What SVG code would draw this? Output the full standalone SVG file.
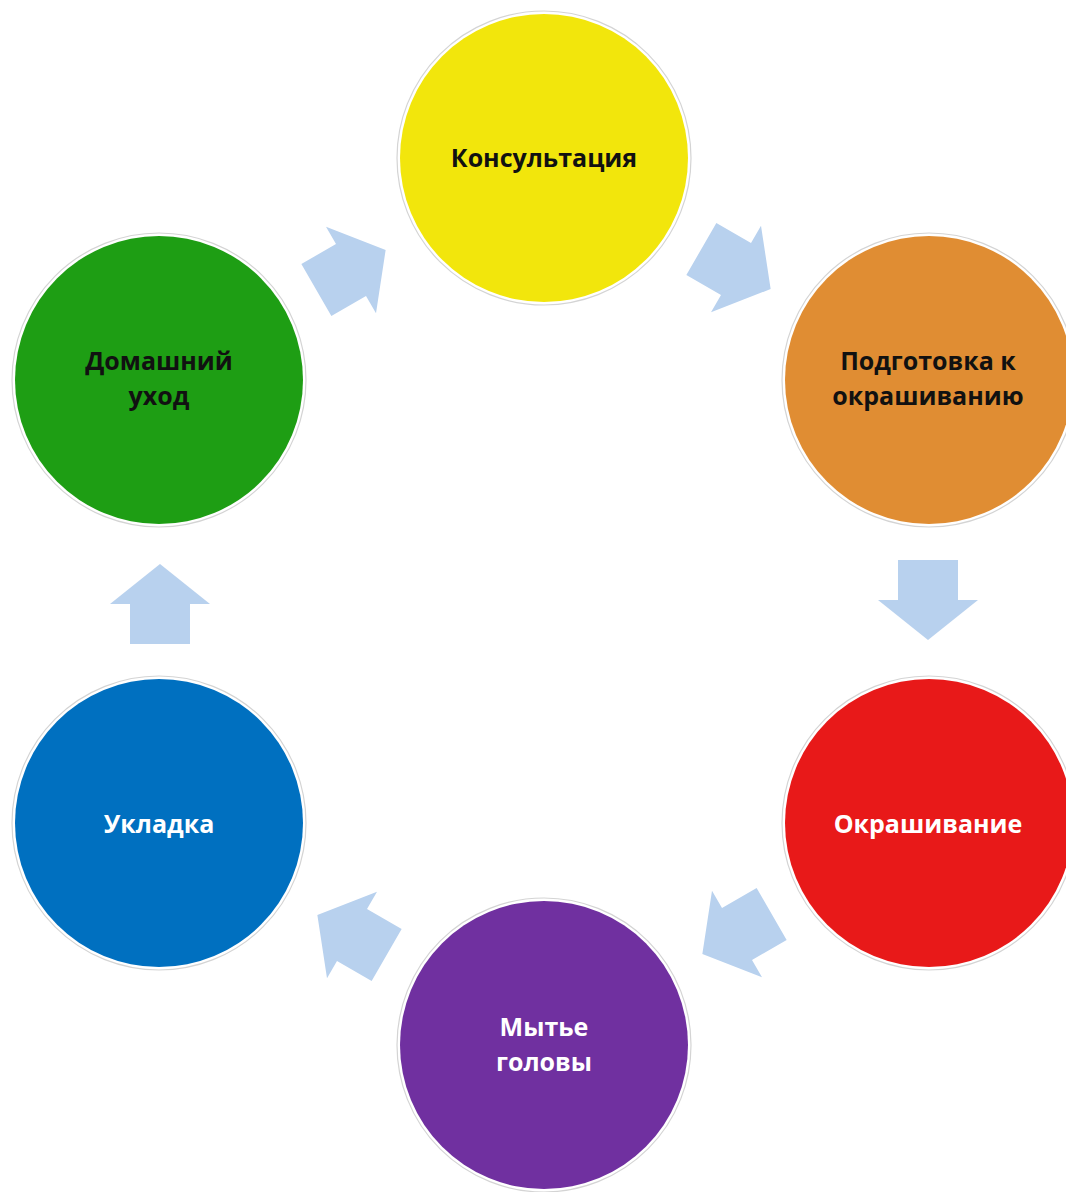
<svg xmlns="http://www.w3.org/2000/svg" width="1066" height="1192" viewBox="0 0 1066 1192">
<defs>
<style>
.ring{fill:#ffffff;stroke:#d4d4d4;stroke-width:1.2}
.lbl{font-family:"Open Sans","Liberation Sans",sans-serif;font-weight:700;font-size:25px;text-anchor:middle}
.dark{fill:#111111}
.light{fill:#ffffff}
.arr{fill:#B8D1EE}
</style>
<path id="arrow" d="M-40,-30 L0,-30 L0,-50 L40,0 L0,50 L0,30 L-40,30 Z"/>
</defs>
<rect width="1066" height="1192" fill="#ffffff"/>
<g id="connectors">
<use href="#arrow" class="arr" transform="translate(736,269) rotate(30)"/>
<use href="#arrow" class="arr" transform="translate(928,600) rotate(90)"/>
<use href="#arrow" class="arr" transform="translate(737,934) rotate(150)"/>
<use href="#arrow" class="arr" transform="translate(352,935) rotate(210)"/>
<use href="#arrow" class="arr" transform="translate(160,604) rotate(270)"/>
<use href="#arrow" class="arr" transform="translate(351,270) rotate(330)"/>
</g>
<g id="konsultatsiya">
<circle class="ring" cx="544" cy="158" r="147"/>
<circle cx="544" cy="158" r="144" fill="#F2E60C"/>
<text class="lbl dark" x="544" y="167">Консультация</text>
</g>
<g id="podgotovka">
<circle class="ring" cx="929" cy="380" r="147"/>
<circle cx="929" cy="380" r="144" fill="#E08D33"/>
<text class="lbl dark" x="928" y="370">Подготовка к</text>
<text class="lbl dark" x="928" y="405">окрашиванию</text>
</g>
<g id="okrashivanie">
<circle class="ring" cx="929" cy="823" r="147"/>
<circle cx="929" cy="823" r="144" fill="#E81919"/>
<text class="lbl light" x="928" y="833">Окрашивание</text>
</g>
<g id="mytie">
<circle class="ring" cx="544" cy="1045" r="147"/>
<circle cx="544" cy="1045" r="144" fill="#7030A0"/>
<text class="lbl light" x="544" y="1036">Мытье</text>
<text class="lbl light" x="544" y="1071">головы</text>
</g>
<g id="ukladka">
<circle class="ring" cx="159" cy="823" r="147"/>
<circle cx="159" cy="823" r="144" fill="#0070C0"/>
<text class="lbl light" x="159" y="833">Укладка</text>
</g>
<g id="domashniy">
<circle class="ring" cx="159" cy="380" r="147"/>
<circle cx="159" cy="380" r="144" fill="#1E9E14"/>
<text class="lbl dark" x="159" y="370">Домашний</text>
<text class="lbl dark" x="159" y="405">уход</text>
</g>
</svg>
